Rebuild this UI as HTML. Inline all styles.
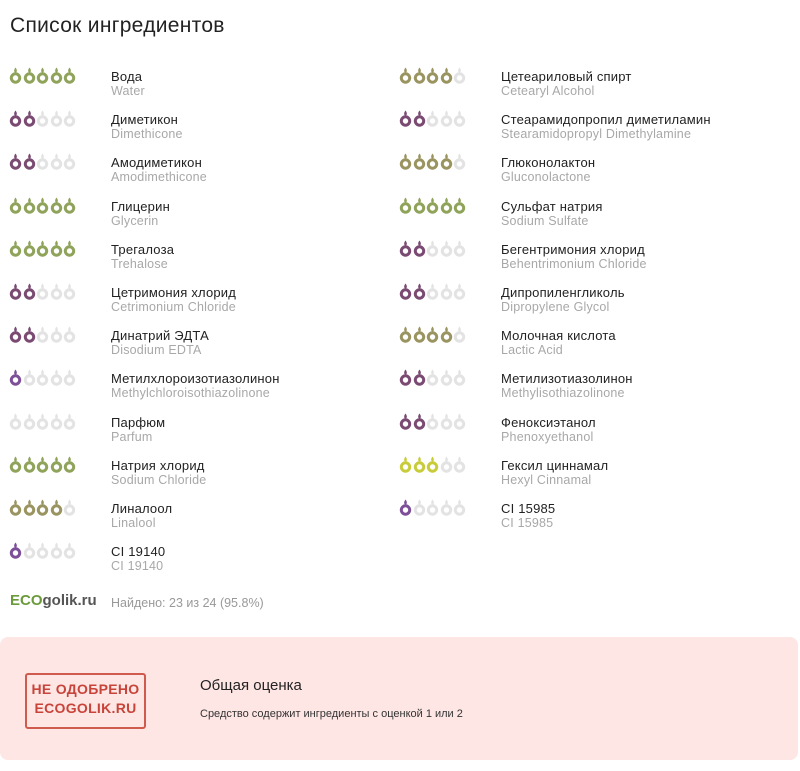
<!DOCTYPE html>
<html><head><meta charset="utf-8"><style>
body{margin:0;width:800px;height:771px;background:#fff;font-family:"Liberation Sans","DejaVu Sans",sans-serif;position:relative;overflow:hidden}
h1{position:absolute;left:10px;top:14px;margin:0;font-size:21px;font-weight:normal;color:#222;letter-spacing:0.3px}
.r{position:absolute;height:40px}
.ic{position:absolute;top:0}
.n{position:absolute;font-size:13px;color:#222;white-space:nowrap;top:-8px;letter-spacing:0.2px}
.l{position:absolute;font-size:12.5px;color:#a8a8a8;white-space:nowrap;top:7px;letter-spacing:0.2px}
.box{position:absolute;left:0;top:637px;width:798px;height:123px;background:#fde6e4;border-radius:8px}
.stamp{position:absolute;left:25px;top:673px;width:117px;height:47px;border:2px solid #cf5a4e;border-radius:3px;color:#c8443a;font-family:"Liberation Sans Narrow","Liberation Sans",sans-serif;font-weight:bold;font-size:14px;line-height:19px;text-align:center;padding-top:5px;box-sizing:content-box;letter-spacing:0.3px}
</style></head><body>
<svg width="0" height="0" style="position:absolute"><defs>
<symbol id="a" viewBox="0 0 13 18"><circle cx="6.5" cy="12" r="4.2" fill="none" stroke="currentColor" stroke-width="3"/><path d="M6.5 1.5 C8.3 3.8 8.3 5.8 6.5 7 C4.7 5.8 4.7 3.8 6.5 1.5Z" fill="currentColor"/></symbol>
</defs></svg>
<h1>Список ингредиентов</h1>
<div id="c"></div>
<div style="position:absolute;left:10px;top:592px;font-weight:bold;font-size:15px"><span style="color:#6a9a3a">ECO</span><span style="color:#555">golik.ru</span></div>
<div style="position:absolute;left:111px;top:596px;font-size:12.5px;color:#999">Найдено: 23 из 24 (95.8%)</div>
<div class="box"></div>
<div class="stamp">НЕ ОДОБРЕНО<br>ECOGOLIK.RU</div>
<div style="position:absolute;left:200px;top:677px;font-size:15px;color:#222">Общая оценка</div>
<div style="position:absolute;left:200px;top:708px;font-size:11px;color:#333">Средство содержит ингредиенты с оценкой 1 или 2</div>
<script>
var G='#8fa35a',P='#7a4a72',O='#9a9460',Y='#c9cc3a',V='#7d4f99',E='#e3e3e3';
var L=[["Вода","Water",5,G],["Диметикон","Dimethicone",2,P],["Амодиметикон","Amodimethicone",2,P],["Глицерин","Glycerin",5,G],["Трегалоза","Trehalose",5,G],["Цетримония хлорид","Cetrimonium Chloride",2,P],["Динатрий ЭДТА","Disodium EDTA",2,P],["Метилхлороизотиазолинон","Methylchloroisothiazolinone",1,V],["Парфюм","Parfum",0,E],["Натрия хлорид","Sodium Chloride",5,G],["Линалоол","Linalool",4,O],["CI 19140","CI 19140",1,V]];
var R=[["Цетеариловый спирт","Cetearyl Alcohol",4,O],["Стеарамидопропил диметиламин","Stearamidopropyl Dimethylamine",2,P],["Глюконолактон","Gluconolactone",4,O],["Сульфат натрия","Sodium Sulfate",5,G],["Бегентримония хлорид","Behentrimonium Chloride",2,P],["Дипропиленгликоль","Dipropylene Glycol",2,P],["Молочная кислота","Lactic Acid",4,O],["Метилизотиазолинон","Methylisothiazolinone",2,P],["Феноксиэтанол","Phenoxyethanol",2,P],["Гексил циннамал","Hexyl Cinnamal",3,Y],["CI 15985","CI 15985",1,V]];
var h='';
function add(arr,ix,tx){arr.forEach(function(d,i){var y=69+i*43.2;h+='<div class="r" style="left:0;top:'+(y+8)+'px">';for(var k=0;k<5;k++){h+='<svg class="ic" style="left:'+(ix+k*13.5)+'px;top:-11px;color:'+(k<d[2]?d[3]:E)+'" width="13" height="18"><use href="#a"/></svg>';}h+='<div class="n" style="left:'+tx+'px">'+d[0]+'</div><div class="l" style="left:'+tx+'px">'+d[1]+'</div></div>';});}
add(L,9,111);add(R,399,501);
document.getElementById('c').innerHTML=h;
</script>
</body></html>
